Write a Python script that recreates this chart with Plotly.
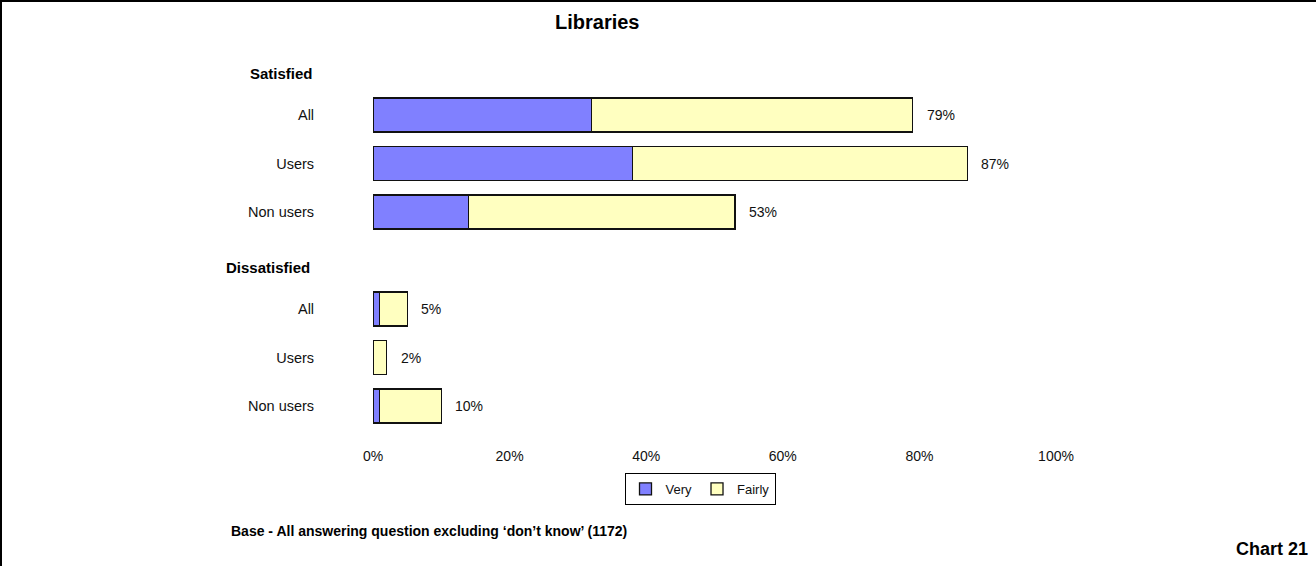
import plotly.graph_objects as go

# ---- data ----
groups = ["Satisfied", "Dissatisfied"]
segments = ["All", "Users", "Non users"]
very_satisfied = [32, 38, 14]
fairly_satisfied = [47, 49, 39]
very_dissatisfied = [1, 0, 1]
fairly_dissatisfied = [4, 2, 9]
x_ticks = [0, 20, 40, 60, 80, 100]
x_tick_labels = ["0%", "20%", "40%", "60%", "80%", "100%"]
title_text = "Libraries"
base_text = "Base - All answering question excluding \u2018don\u2019t know\u2019 (1172)"
chart_no = "Chart 21"

FONT = "Liberation Sans, Arial, sans-serif"
BLUE = "#8080FF"
YELLOW = "#FFFFC0"

# layout geometry (pixels)
W, H = 1316, 566
L, R, T, B = 373, 260, 40, 124
pw, ph = W - L - R, H - T - B

def px_x(p):
    return (p - L) / pw

def px_y(p):
    return (H - B - p) / ph

# row positions: group g occupies slots g*4 .. g*4+2
very = very_satisfied + very_dissatisfied
fairly = fairly_satisfied + fairly_dissatisfied
pos = [g * 4 + i for g in range(len(groups)) for i in range(len(segments))]
labels = segments * len(groups)
totals = [v + f for v, f in zip(very, fairly)]

fig = go.Figure()
fig.add_trace(go.Bar(
    name="Very", y=pos, x=very, orientation="h", width=0.7,
    marker=dict(color=BLUE, line=dict(color="#111111", width=1.3)),
    hoverinfo="x+name",
))
fig.add_trace(go.Bar(
    name="Fairly", y=pos, x=fairly, orientation="h", width=0.7,
    marker=dict(color=YELLOW, line=dict(color="#111111", width=1.3)),
    hoverinfo="x+name",
))

annotations = []
for p, t in zip(pos, totals):
    annotations.append(dict(
        x=t, y=p, xref="x", yref="y", text=f"{t}%", showarrow=False,
        xanchor="left", yanchor="middle", xshift=12,
        font=dict(family=FONT, size=14, color="#111111"),
    ))

# group headers
header_right = [315, 312]
for g, name in enumerate(groups):
    annotations.append(dict(
        x=px_x(header_right[g]), y=g * 4 - 0.866, xref="paper", yref="y",
        text=f"<b>{name}</b>", showarrow=False, xanchor="right", yanchor="middle",
        font=dict(family=FONT, size=15, color="#000000"),
    ))

annotations.append(dict(
    x=px_x(597), y=px_y(22), xref="paper", yref="paper", text=f"<b>{title_text}</b>",
    showarrow=False, xanchor="center", yanchor="middle",
    font=dict(family=FONT, size=20, color="#000000"),
))
annotations.append(dict(
    x=px_x(229), y=px_y(531), xref="paper", yref="paper", text=f"<b>{base_text}</b>",
    showarrow=False, xanchor="left", yanchor="middle",
    font=dict(family=FONT, size=14, color="#000000"),
))
annotations.append(dict(
    x=px_x(1310), y=px_y(549), xref="paper", yref="paper", text=f"<b>{chart_no}</b>",
    showarrow=False, xanchor="right", yanchor="middle",
    font=dict(family=FONT, size=18, color="#000000"),
))

shapes = [
    dict(type="line", xref="paper", yref="paper", x0=px_x(1), x1=px_x(1), y0=px_y(0), y1=px_y(H),
         line=dict(color="black", width=2)),
    dict(type="line", xref="paper", yref="paper", x0=px_x(0), x1=px_x(W), y0=px_y(1), y1=px_y(1),
         line=dict(color="black", width=2)),
]

fig.update_layout(
    width=W, height=H,
    margin=dict(l=L, r=R, t=T, b=B, pad=0),
    barmode="stack",
    bargap=0.3,
    plot_bgcolor="white", paper_bgcolor="white",
    font=dict(family=FONT, size=14, color="#111111"),
    showlegend=True,
    legend=dict(
        orientation="h", x=px_x(700), y=px_y(473), xanchor="center", yanchor="top",
        bordercolor="black", borderwidth=1, bgcolor="white",
        font=dict(family=FONT, size=13, color="#111111"),
        traceorder="normal", itemwidth=30,
    ),
    xaxis=dict(
        range=[0, 100], tickvals=x_ticks, ticktext=x_tick_labels,
        showgrid=False, zeroline=False, showline=False,
        ticks="outside", ticklen=1, tickcolor="rgba(0,0,0,0)",
        tickfont=dict(family=FONT, size=14, color="#111111"),
    ),
    yaxis=dict(
        range=[(H - B - 115) / 48.5, (T - 115) / 48.5],
        tickvals=pos, ticktext=labels,
        showgrid=False, zeroline=False, showline=False,
        ticks="outside", ticklen=55, tickcolor="rgba(0,0,0,0)",
        tickfont=dict(family=FONT, size=14.5, color="#111111"),
    ),
    annotations=annotations,
    shapes=shapes,
)

fig.write_html("out.html")
